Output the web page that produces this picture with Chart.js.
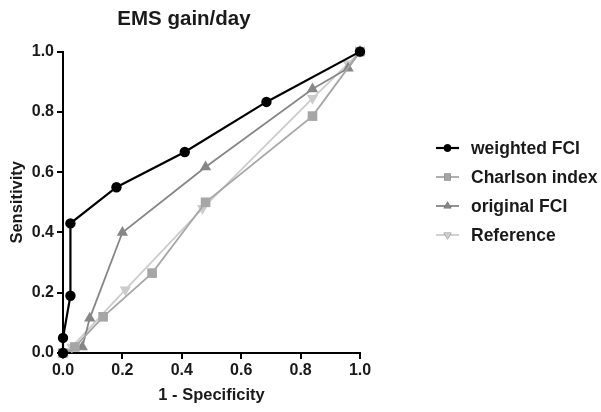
<!DOCTYPE html>
<html>
<head>
<meta charset="utf-8">
<script src="https://cdn.jsdelivr.net/npm/chart.js@4/dist/chart.umd.min.js"></script>
<style>
  html, body { margin: 0; padding: 0; background: #fff; }
  #wrap { width: 601px; height: 412px; }
</style>
</head>
<body>
<div id="wrap"><canvas id="roc"></canvas></div>
<script>
// ROC curves, EMS gain/day
const weightedX  = [0, 0.0, 0.025, 0.025, 0.18, 0.41, 0.685, 1];
const weightedY  = [0, 0.05, 0.19, 0.43, 0.55, 0.667, 0.833, 1];
const charlsonX  = [0, 0.04, 0.135, 0.30, 0.48, 0.84, 1];
const charlsonY  = [0, 0.02, 0.12, 0.265, 0.50, 0.786, 1];
const origX      = [0, 0.065, 0.09, 0.20, 0.48, 0.84, 0.96, 1];
const origY      = [0, 0.02, 0.115, 0.40, 0.617, 0.876, 0.945, 1];
const refX       = [0, 0.03, 0.21, 0.47, 0.84, 0.96, 1];
const refY       = [0, 0.02, 0.21, 0.48, 0.845, 0.96, 1];
const axisTicks  = [0, 0.2, 0.4, 0.6, 0.8, 1.0];

const FONT = "'Liberation Sans', Arial, sans-serif";
const pts = (xs, ys) => xs.map((x, i) => ({ x: x, y: ys[i] }));

const series = [
  { label: 'weighted FCI',   data: pts(weightedX, weightedY), color: '#000000', style: 'circle',   radius: 5.2, rot: 0,   lw: 2.2 },
  { label: 'Charlson index', data: pts(charlsonX, charlsonY), color: '#a6a6a6', style: 'rect',     radius: 6.8, rot: 0,   lw: 1.8 },
  { label: 'original FCI',   data: pts(origX, origY),         color: '#868686', style: 'triangle', radius: 6.5, rot: 0,   lw: 1.8 },
  { label: 'Reference',      data: pts(refX, refY),           color: '#cccccc', style: 'triangle', radius: 6.5, rot: 180, lw: 1.8 }
];

// legend drawn on the right: line sample + marker + label
const sideLegend = {
  id: 'sideLegend',
  afterDraw(chart) {
    const ctx = chart.ctx;
    const rows = [148, 177, 206, 235];
    ctx.save();
    chart.data.datasets.forEach((ds, i) => {
      const y = rows[i];
      ctx.strokeStyle = ds.borderColor;
      ctx.lineWidth = ds.borderWidth;
      ctx.beginPath();
      ctx.moveTo(436, y);
      ctx.lineTo(459, y);
      ctx.stroke();
      Chart.helpers.drawPoint(ctx, {
        pointStyle: ds.pointStyle,
        rotation: ds.pointRotation,
        radius: ds.pointRadius * 0.7,
        borderWidth: 0
      }, 447.5, y);
      ctx.fillStyle = ds.pointBackgroundColor;
      ctx.fill();
      ctx.fillStyle = '#1a1a1a';
      ctx.font = 'bold 17.5px ' + FONT;
      ctx.textBaseline = 'middle';
      ctx.fillText(ds.label, 471, y + 1);
    });
    ctx.restore();
  }
};

const ctx = document.getElementById('roc').getContext('2d');
const rocChart = new Chart(ctx, {
  type: 'line',
  data: {
    datasets: series.map(s => ({
      label: s.label,
      data: s.data,
      borderColor: s.color,
      backgroundColor: s.color,
      pointBackgroundColor: s.color,
      pointBorderColor: s.color,
      pointBorderWidth: 0,
      pointStyle: s.style,
      pointRotation: s.rot,
      pointRadius: s.radius,
      borderWidth: s.lw,
      tension: 0,
      clip: false
    }))
  },
  options: {
    responsive: true, maintainAspectRatio: false,
    animation: false,
    layout: { padding: { left: 8, right: 241, top: 0, bottom: 7 } },
    plugins: {
      legend: { display: false },
      tooltip: { enabled: false },
      title: {
        display: true,
        text: 'EMS gain/day',
        color: '#1a1a1a',
        font: { family: FONT, size: 20.5, weight: 'bold' },
        padding: { top: 7, bottom: 20 }
      }
    },
    scales: {
      x: {
        type: 'linear', min: 0, max: 1,
        afterBuildTicks: (s) => { s.ticks = axisTicks.map(v => ({ value: v })); },
        border: { color: '#000', width: 2 },
        grid: { drawOnChartArea: false, drawTicks: true, tickLength: 6, color: '#000', lineWidth: 2 },
        ticks: {
          color: '#1a1a1a', padding: 2,
          font: { family: FONT, size: 16, weight: 'bold' },
          callback: v => v.toFixed(1)
        },
        title: {
          display: true, text: '1 - Specificity', color: '#1a1a1a',
          font: { family: FONT, size: 16.5, weight: 'bold' },
          padding: { top: 3, bottom: 0 }
        }
      },
      y: {
        type: 'linear', min: 0, max: 1,
        afterBuildTicks: (s) => { s.ticks = axisTicks.map(v => ({ value: v })); },
        afterFit: (s) => { s.width = 55; },
        border: { color: '#000', width: 2 },
        grid: { drawOnChartArea: false, drawTicks: true, tickLength: 6, color: '#000', lineWidth: 2 },
        ticks: {
          color: '#1a1a1a', padding: 3,
          font: { family: FONT, size: 16, weight: 'bold' },
          callback: v => v.toFixed(1)
        },
        title: {
          display: true, text: 'Sensitivity', color: '#1a1a1a',
          font: { family: FONT, size: 16.5, weight: 'bold' },
          padding: { top: 0, bottom: 2 }
        }
      }
    }
  },
  plugins: [sideLegend]
});
</script>
</body>
</html>
